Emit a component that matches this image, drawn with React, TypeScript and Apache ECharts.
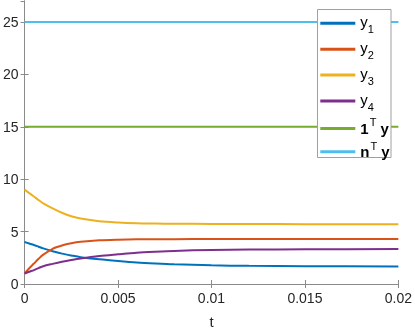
import React, { useEffect, useRef } from "react";
import * as echarts from "echarts";

const tValues = [0, 0.00025, 0.0005, 0.00075, 0.001, 0.0015, 0.002, 0.0025, 0.003, 0.004, 0.005, 0.006, 0.007, 0.008, 0.01, 0.012, 0.015, 0.02];
const y1 = [4.0, 3.86, 3.72, 3.56, 3.4, 3.13, 2.9, 2.72, 2.56, 2.36, 2.2, 2.06, 1.96, 1.88, 1.78, 1.73, 1.7, 1.68];
const y2 = [1.0, 1.5, 1.95, 2.4, 2.8, 3.36, 3.67, 3.88, 4.02, 4.17, 4.23, 4.26, 4.27, 4.28, 4.29, 4.29, 4.29, 4.29];
const y3 = [9.0, 8.67, 8.35, 8.01, 7.7, 7.22, 6.8, 6.47, 6.25, 5.99, 5.87, 5.8, 5.77, 5.75, 5.73, 5.72, 5.71, 5.7];
const y4 = [1.0, 1.17, 1.33, 1.52, 1.7, 1.92, 2.12, 2.29, 2.44, 2.67, 2.83, 2.98, 3.08, 3.16, 3.25, 3.29, 3.31, 3.33];
const sumY = [15, 15, 15, 15, 15, 15, 15, 15, 15, 15, 15, 15, 15, 15, 15, 15, 15, 15];
const weightedY = [25, 25, 25, 25, 25, 25, 25, 25, 25, 25, 25, 25, 25, 25, 25, 25, 25, 25];

const seriesNames = ["y1", "y2", "y3", "y4", "1Ty", "nTy"];
const seriesData = [y1, y2, y3, y4, sumY, weightedY];
const colors = ["#0072BD", "#D95319", "#EDB120", "#7E2F8E", "#77AC30", "#4DBEEE"];
const legendLabels: Record<string, string> = {
  y1: "{v|y}{sub|1}",
  y2: "{v|y}{sub|2}",
  y3: "{v|y}{sub|3}",
  y4: "{v|y}{sub|4}",
  "1Ty": "{b|1}{sup|T}{b| y}",
  nTy: "{b|n}{sup|T}{b| y}",
};

const FONT = "'Liberation Sans', Arial, Helvetica, sans-serif";
const TXT = "#262626";
const AX = "#8a8a8a";

export default function App() {
  const ref = useRef<HTMLDivElement>(null);
  useEffect(() => {
    if (!ref.current) return;
    const chart = echarts.init(ref.current, undefined, { renderer: "svg" });
    const xFmt = (v: number) => parseFloat(v.toFixed(4)).toString();
    const axisLineStyle = { show: true, lineStyle: { color: AX, width: 1 } };
    chart.setOption({
      animation: false,
      textStyle: { fontFamily: FONT },
      grid: { left: 23.5, right: 15, top: 1, bottom: 46, containLabel: false },
      xAxis: [
        {
          type: "value",
          min: 0,
          max: 0.02,
          interval: 0.005,
          position: "bottom",
          name: "t",
          nameLocation: "middle",
          nameGap: 30,
          nameTextStyle: { color: TXT, fontSize: 15, fontFamily: FONT },
          axisLine: axisLineStyle,
          axisTick: { show: true, inside: true, length: 4, lineStyle: { color: AX } },
          axisLabel: { color: TXT, fontSize: 14, fontFamily: FONT, margin: 7, formatter: xFmt },
          splitLine: { show: false },
        },
        {
          type: "value",
          min: 0,
          max: 0.02,
          interval: 0.005,
          position: "top",
          axisLine: axisLineStyle,
          axisTick: { show: true, inside: true, length: 4, lineStyle: { color: AX } },
          axisLabel: { show: false },
          splitLine: { show: false },
        },
      ],
      yAxis: [
        {
          type: "value",
          min: 0,
          max: 27,
          interval: 5,
          position: "left",
          axisLine: axisLineStyle,
          axisTick: { show: true, inside: true, length: 4, lineStyle: { color: AX } },
          axisLabel: { color: TXT, fontSize: 14, fontFamily: FONT, margin: 6, showMaxLabel: false },
          splitLine: { show: false },
        },
        {
          type: "value",
          min: 0,
          max: 27,
          interval: 5,
          position: "right",
          axisLine: axisLineStyle,
          axisTick: { show: true, inside: true, length: 4, lineStyle: { color: AX } },
          axisLabel: { show: false },
          splitLine: { show: false },
        },
      ],
      graphic: [
        {
          type: "rect",
          z: 3,
          shape: { x: 317.5, y: 9.5, width: 73.5, height: 148 },
          style: { fill: "#ffffff", stroke: "#a0a0a0", lineWidth: 1 },
        },
      ],
      legend: {
        orient: "vertical",
        left: 320.3,
        top: 13.3,
        padding: 0,
        itemGap: 4.4,
        itemWidth: 35,
        itemHeight: 3,
        itemTextGap: 4,
        icon: "rect",
        z: 5,
        data: seriesNames,
        formatter: (name: string) => legendLabels[name],
        textStyle: {
          color: TXT,
          fontFamily: FONT,
          rich: {
            v: { fontSize: 15, lineHeight: 20, height: 16, verticalAlign: "top", color: "#000", fontFamily: FONT },
            sub: { fontSize: 11, lineHeight: 8, height: 8, color: "#000", fontFamily: FONT, verticalAlign: "bottom" },
            b: { fontSize: 15, lineHeight: 20, fontWeight: "bold", color: "#000", fontFamily: FONT },
            sup: { fontSize: 11, lineHeight: 8, height: 8, color: "#000", fontFamily: FONT, verticalAlign: "top", padding: [0, 0, 0, 1] },
          },
        },
      },
      series: seriesNames.map((name, i) => ({
        name,
        type: "line",
        xAxisIndex: 0,
        yAxisIndex: 0,
        data: tValues.map((t, j) => [t, seriesData[i][j]]),
        smooth: 0.3,
        symbol: "none",
        lineStyle: { color: colors[i], width: 2 },
        itemStyle: { color: colors[i] },
        z: 2,
      })),
    });
    return () => chart.dispose();
  }, []);
  return <div ref={ref} style={{ position: "fixed", left: 0, top: 0, width: 415, height: 334 }} />;
}
